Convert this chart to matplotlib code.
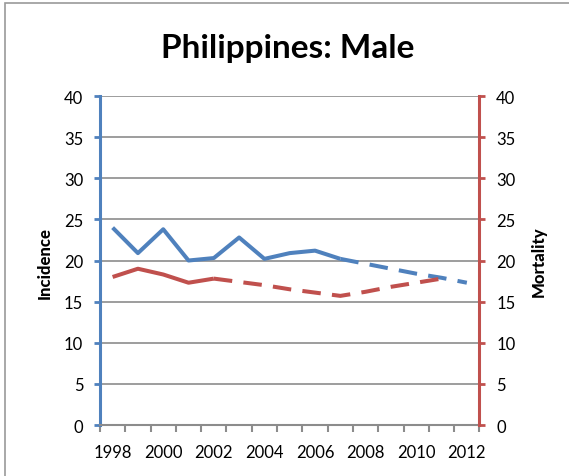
import matplotlib
matplotlib.use('Agg')
import matplotlib.pyplot as plt
from matplotlib.patches import Rectangle

# dati
years = list(range(1998, 2013))
incidence = [24.0, 20.9, 23.8, 20.0, 20.3, 22.8, 20.2, 20.9, 21.2, 20.2,
             19.6, 19.0, 18.4, 17.9, 17.3]
mortality = [18.0, 19.0, 18.3, 17.3, 17.8, 17.4, 17.0, 16.5, 16.1, 15.7,
             16.2, 16.8, 17.3, 17.8]
inc_last_obs = 2007     # ultimo anno osservato (poi proiezione)
mort_last_obs = 2002
y_ticks = list(range(0, 45, 5))
x_labels = [str(y) for y in range(1998, 2013, 2)]

blue = '#4F81BD'
red = '#C0504D'
grid_col = '#8C8C8C'

plt.rcParams['font.family'] = ['Lato', 'DejaVu Sans']

fig = plt.figure(figsize=(5.69, 4.77), dpi=100)
ax = fig.add_axes([0.1757, 0.1069, 0.6670, 0.6897])
ax2 = ax.twinx()

# cornice esterna (lati sinistro e superiore)
fig.patches.append(Rectangle((0.009, -0.1), 1.2, 1.092, transform=fig.transFigure,
                             fill=False, edgecolor='#9A9A9A', lw=1.2))

xi = [y - 1998 for y in years]
k = years.index(inc_last_obs)
ax.plot(xi[:k + 1], incidence[:k + 1], color=blue, lw=2.9, solid_capstyle='butt', zorder=3)
ax.plot(xi[k:], incidence[k:], color=blue, lw=2.9, dashes=(4.6, 2.8), zorder=3)

xm = xi[:len(mortality)]
j = years.index(mort_last_obs)
ax.plot(xm[:j + 1], mortality[:j + 1], color=red, lw=2.9, solid_capstyle='butt', zorder=3)
ax.plot(xm[j:], mortality[j:], color=red, lw=2.9, dashes=(4.6, 2.8), zorder=3)

for a in (ax, ax2):
    a.set_ylim(0, 40)
    a.set_yticks(y_ticks)
    a.set_xlim(-0.5, len(years) - 0.5)
    for s in a.spines.values():
        s.set_visible(False)

ax.spines['left'].set_visible(True)
ax.spines['left'].set_color(blue)
ax.spines['left'].set_linewidth(2.2)
ax.spines['bottom'].set_visible(True)
ax.spines['bottom'].set_color(grid_col)
ax.spines['bottom'].set_linewidth(1.5)
ax2.spines['right'].set_visible(True)
ax2.spines['right'].set_color(red)
ax2.spines['right'].set_linewidth(2.2)

ax.yaxis.grid(True, color=grid_col, lw=1.2)
ax.set_axisbelow(True)

# tick asse x tra le categorie, etichette ogni due anni
ax.set_xticks([i - 0.5 for i in range(len(years) + 1)])
ax.set_xticklabels([])
ax.set_xticks(range(0, len(years), 2), minor=True)
ax.set_xticklabels(x_labels, minor=True)
ax.tick_params(axis='x', which='major', length=5, width=1.5, color=grid_col)
ax.tick_params(axis='x', which='minor', length=0, pad=14, labelsize=12)

ax.tick_params(axis='y', length=4, width=2, color=blue, labelsize=12, pad=8)
ax2.tick_params(axis='y', length=4, width=2, color=red, labelsize=12, pad=8)

fig.text(0.079, 0.449, 'Incidence', rotation=90, ha='center', va='center',
         fontsize=12, fontweight='black')
fig.text(0.946, 0.451, 'Mortality', rotation=90, ha='center', va='center',
         fontsize=12, fontweight='black')
fig.text(0.506, 0.898, 'Philippines: Male', ha='center', va='center',
         fontsize=24, fontweight='bold')

fig.savefig('out.png', dpi=100)
